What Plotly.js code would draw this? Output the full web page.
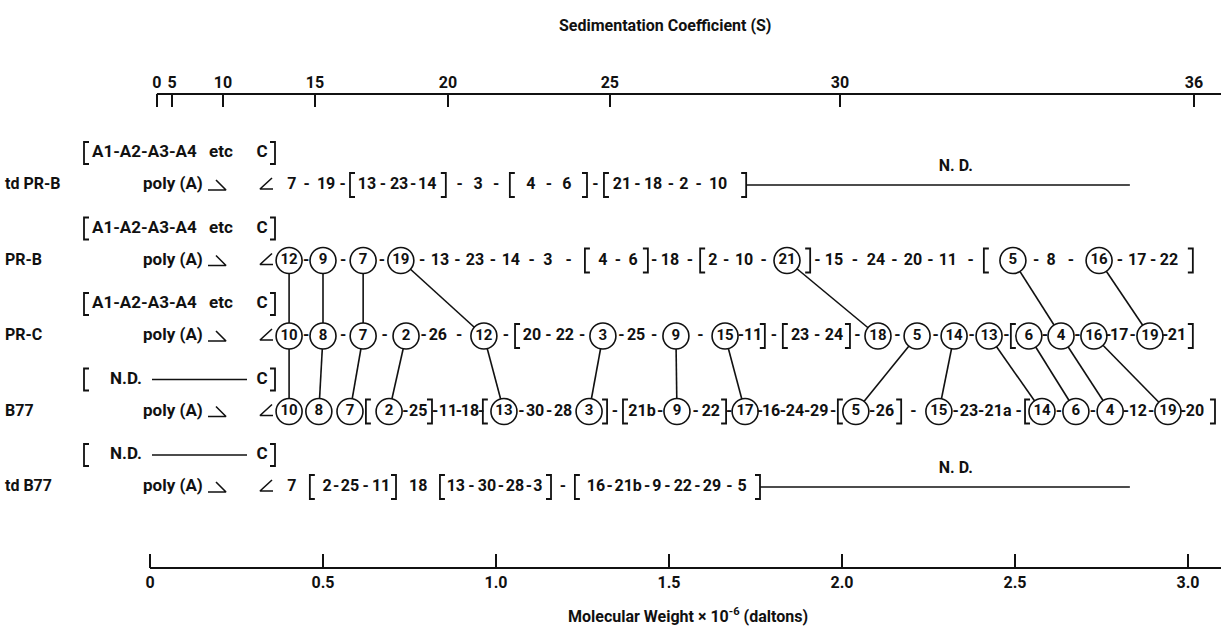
<!DOCTYPE html>
<html>
<head>
<meta charset="utf-8">
<script src="https://cdn.plot.ly/plotly-3.0.1.min.js"></script>
<style>
html,body{margin:0;padding:0;background:#fff;}
#chart{width:1221px;height:627px;}
</style>
</head>
<body>
<div id="chart"></div>
<script>
// ===== data: x positions are molecular weight x 10^-6 measured from the poly(A) end =====
const strains = ['td PR-B', 'PR-B', 'PR-C', 'B77', 'td B77'];
const capText = ['A1-A2-A3-A4 etc', 'A1-A2-A3-A4 etc', 'A1-A2-A3-A4 etc', 'N.D.', 'N.D.'];

// oligonucleotide order; (n) = circled spot, [ ] = group of undetermined order
const orderTdPRB = '7-19-[13-23-14]-3-[4-6]-[21-18-2-10]';
const mwTdPRB = [0.410, 0.509, 0.578, 0.627, 0.720, 0.801, 0.855, 0.948, 1.040, 1.101, 1.205, 1.263, 1.312, 1.364, 1.454, 1.543, 1.642, 1.723];

const orderPRB = '(12)-(9)-(7)-(19)-13-23-14-3-[4-6]-18-[2-10-(21)]-15-24-20-11-[(5)-8-(16)-17-22]';
const mwPRB = [0.402, 0.500, 0.616, 0.725, 0.838, 0.939, 1.043, 1.150, 1.257, 1.309, 1.396, 1.439, 1.503, 1.590, 1.627, 1.717, 1.841, 1.908, 1.977, 2.098, 2.205, 2.306, 2.410, 2.494, 2.604, 2.743, 2.853, 2.945, 3.014];

const orderPRC = '(10)-(8)-(7)-(2)-26-(12)-[20-22-(3)-25-(9)-(15)-11]-[23-24]-(18)-(5)-(14)-(13)-[(6)-(4)-(16)-17-(19)-21]';
const mwPRC = [0.402, 0.500, 0.616, 0.740, 0.832, 0.965, 1.055, 1.104, 1.199, 1.309, 1.405, 1.520, 1.662, 1.743, 1.777, 1.829, 1.879, 1.977, 2.023, 2.104, 2.217, 2.324, 2.425, 2.488, 2.540, 2.633, 2.728, 2.801, 2.890, 2.968, 3.014];

const orderB77 = '(10)(8)(7)[(2)-25]-11-18-[(13)-30-28(3)]-[21b-(9)-22]-(17)-16-24-29-[(5)-26]-(15)-23-21a-[(14)-(6)-(4)-12-(19)-20]';
const mwB77 = [0.402, 0.488, 0.578, 0.624, 0.691, 0.775, 0.815, 0.861, 0.925, 0.962, 1.023, 1.113, 1.194, 1.269, 1.321, 1.367, 1.422, 1.523, 1.621, 1.665, 1.720, 1.795, 1.864, 1.934, 1.988, 2.040, 2.124, 2.171, 2.280, 2.367, 2.451, 2.529, 2.578, 2.676, 2.775, 2.855, 2.942, 3.020, 3.078];

const orderTdB77 = '7 [2-25-11] 18 [13-30-28-3]-[16-21b-9-22-29-5]';
const mwTdB77 = [0.410, 0.462, 0.512, 0.578, 0.668, 0.711, 0.775, 0.838, 0.884, 0.974, 1.055, 1.121, 1.159, 1.228, 1.289, 1.382, 1.465, 1.540, 1.624, 1.711, 1.763];

const ndEnd = [2.832, null, null, null, 2.832];      // end of the "N.D." stretch
const ndLabelMw = [2.329, null, null, null, 2.329];

// corresponding circled oligonucleotides between neighbouring maps
const linksPRBtoPRC = [['12','10'],['9','8'],['7','7'],['19','12'],['21','18'],['5','4'],['16','19']];
const linksPRCtoB77 = [['10','10'],['8','8'],['7','7'],['2','2'],['12','13'],['3','3'],['9','9'],['15','17'],['5','5'],['14','15'],['13','14'],['6','6'],['4','4'],['16','19']];

// axes
const mwTicks = [0, 0.5, 1.0, 1.5, 2.0, 2.5, 3.0];
const mwTickText = ['0', '0.5', '1.0', '1.5', '2.0', '2.5', '3.0'];
const sTickText = ['0', '5', '10', '15', '20', '25', '30', '36'];
const sTickMw = [0.020, 0.064, 0.211, 0.477, 0.861, 1.329, 1.994, 3.017];

// ===== layout helpers =====
const PX = 1 / 346;      // MW units per pixel
const PY = 1 / 75.5;     // row units per pixel
const X0 = -150 * PX, X1 = (1221 - 150) * PX;
const Y0 = -(185 - 94) * PY, Y1 = (568 - 185) * PY;
const FONT = 'Roboto, "Liberation Sans", sans-serif';
const INK = '#111';

const orders = [orderTdPRB, orderPRB, orderPRC, orderB77, orderTdB77];
const mws = [mwTdPRB, mwPRB, mwPRC, mwB77, mwTdB77];

function parse(order, mw) {
  const toks = order.match(/\(\w+\)|\w+|\[|\]|-/g);
  const els = [], dashes = [];
  let k = 0;
  toks.forEach(t => {
    if (t === '-') { dashes.push(els.length - 1); return; }
    let type, label = t;
    if (t === '[' || t === ']') type = t;
    else if (t[0] === '(') { type = 'circle'; label = t.slice(1, -1); }
    else type = 'num';
    els.push({type, label, x: mw[k++]});
  });
  return {els, dashes};
}
const rows = orders.map((o, i) => parse(o, mws[i]));

function ext(e, side) {
  if (e.type === 'circle') return 13;
  if (e.type === '[') return side === 'r' ? 5 : 0;
  if (e.type === ']') return side === 'l' ? 5 : 0;
  return 4.7 * e.label.length;
}

const numX = [], numY = [], numT = [];
const cirX = [], cirY = [], cirT = [];
const brX = [], brY = [];
const BH = 12 * PY, BW = 5 * PX;
function bracket(x, y, open, h) {
  const d = open ? BW : -BW;
  brX.push(x + d, x, x, x + d, null);
  brY.push(y - h, y - h, y + h, y + h, null);
}
rows.forEach((r, i) => {
  r.els.forEach(e => {
    if (e.type === 'num') { numX.push(e.x); numY.push(i); numT.push(e.label); }
    else if (e.type === 'circle') { cirX.push(e.x); cirY.push(i); cirT.push(e.label); }
    else bracket(e.x, i, e.type === '[', BH);
  });
  r.dashes.forEach(k => {
    const a = r.els[k], b = r.els[k + 1];
    const xa = a.x + ext(a, 'r') * PX, xb = b.x - ext(b, 'l') * PX;
    numX.push((xa + xb) / 2); numY.push(i); numT.push('-');
  });
});

function circX(row, label) {
  return rows[row].els.find(e => e.type === 'circle' && e.label === label).x;
}
const lkX = [], lkY = [];
linksPRBtoPRC.forEach(([a, b]) => { lkX.push(circX(1, a), circX(2, b), null); lkY.push(1, 2, null); });
linksPRCtoB77.forEach(([a, b]) => { lkX.push(circX(2, a), circX(3, b), null); lkY.push(2, 3, null); });

// N.D. stretches, hooks, cap-label pieces
const lnX = [], lnY = [];
const ndTX = [], ndTY = [], ndTT = [];
const labX = [], labY = [], labT = [];
const polyX = [], polyY = [], polyT = [];
const capX = [], capY = [], capT = [];
const etcX = [], etcY = [], etcT = [];
const cX = [], cY = [];
const xLab = (5 - 150) * PX, xPoly = (143 - 150) * PX, xHook = (226 - 150) * PX, xCap = (266 - 150) * PX;
const xCapL = (84 - 150) * PX, xCapR = (275 - 150) * PX, xC = (262 - 150) * PX;
strains.forEach((s, i) => {
  labX.push(xLab); labY.push(i); labT.push(s);
  polyX.push(xPoly); polyY.push(i); polyT.push('poly (A)');
  // poly(A) hook
  lnX.push(xHook - 18 * PX, xHook, xHook - 10 * PX, null);
  lnY.push(i + 5 * PY, i + 5 * PY, i - 5 * PY, null);
  // 5' cap mark
  lnX.push(xCap + 6 * PX, xCap - 6 * PX, xCap + 7 * PX, null);
  lnY.push(i - 7 * PY, i + 4 * PY, i + 4 * PY, null);
  if (ndEnd[i] != null) {
    const last = rows[i].els[rows[i].els.length - 1].x;
    lnX.push(last, ndEnd[i], null); lnY.push(i, i, null);
    ndTX.push(ndLabelMw[i]); ndTY.push(i - 18 * PY); ndTT.push('N. D.');
  }
  const yc = i - 32 * PY;
  bracket(xCapL, yc, true, 11 * PY);
  bracket(xCapR, yc, false, 11 * PY);
  cX.push(xC); cY.push(yc);
  if (capText[i] === 'N.D.') {
    capX.push((110 - 150) * PX); capY.push(yc); capT.push('N.D.');
    lnX.push((152 - 150) * PX, (247 - 150) * PX, null); lnY.push(yc, yc, null);
  } else {
    const cut = capText[i].lastIndexOf(' ');
    capX.push((92 - 150) * PX); capY.push(yc); capT.push(capText[i].slice(0, cut));
    etcX.push((221 - 150) * PX); etcY.push(yc); etcT.push(capText[i].slice(cut + 1));
  }
});

const tf = (size) => ({family: FONT, size: size, color: INK, weight: 'bold'});
const txt = (x, y, t, pos, size) => ({x, y, text: t, mode: 'text', textposition: pos, textfont: tf(size), hoverinfo: 'skip', cliponaxis: false});
const traces = [
  {x: lkX, y: lkY, mode: 'lines', line: {color: INK, width: 1.6}, hoverinfo: 'skip', cliponaxis: false},
  {x: brX, y: brY, mode: 'lines', line: {color: INK, width: 1.8}, hoverinfo: 'skip', cliponaxis: false},
  {x: lnX, y: lnY, mode: 'lines', line: {color: INK, width: 1.6}, hoverinfo: 'skip', cliponaxis: false},
  {x: cirX, y: cirY, text: cirT, mode: 'markers+text', textposition: 'middle center',
   marker: {symbol: 'circle', size: 26, color: '#fff', line: {color: INK, width: 1.6}},
   textfont: tf(15), hoverinfo: 'skip', cliponaxis: false},
  txt(numX, numY, numT, 'middle center', 16),
  txt(labX, labY, labT, 'middle right', 16),
  txt(polyX, polyY, polyT, 'middle right', 17),
  txt(capX, capY, capT, 'middle right', 17),
  txt(etcX, etcY, etcT, 'middle center', 17),
  txt(cX, cY, cX.map(() => 'C'), 'middle center', 17),
  txt(ndTX, ndTY, ndTT, 'middle center', 16),
  {x: [sTickMw[0]], y: [null], xaxis: 'x2', mode: 'markers', hoverinfo: 'skip'}
];

const axisCommon = {
  tickmode: 'array', ticks: 'inside', tickwidth: 2, tickcolor: INK, tickangle: 0,
  showgrid: false, zeroline: false, showline: false, fixedrange: true,
  tickfont: tf(16)
};
const layout = {
  width: 1221, height: 627,
  margin: {l: 0, r: 0, t: 94, b: 59, pad: 0},
  paper_bgcolor: '#fff', plot_bgcolor: '#fff', showlegend: false,
  font: {family: FONT, size: 16, color: INK},
  xaxis: Object.assign({}, axisCommon, {range: [X0, X1], tickvals: mwTicks, ticktext: mwTickText, ticklen: 14, ticklabelstandoff: 3}),
  xaxis2: Object.assign({}, axisCommon, {range: [X0, X1], overlaying: 'x', side: 'top', anchor: 'y',
    tickvals: sTickMw, ticktext: sTickText, ticklen: 13, ticklabelstandoff: 2}),
  yaxis: {range: [Y1, Y0], visible: false, fixedrange: true},
  shapes: [
    {type: 'line', xref: 'x', yref: 'paper', x0: 0, x1: X1, y0: 0, y1: 0, line: {color: INK, width: 2}},
    {type: 'line', xref: 'x', yref: 'paper', x0: sTickMw[0], x1: X1, y0: 1, y1: 1, line: {color: INK, width: 2}}
  ],
  annotations: [
    {text: 'Sedimentation Coefficient (S)', xref: 'x', yref: 'paper', x: (665 - 150) * PX, y: 1 + (94 - 26) / 474,
     xanchor: 'center', yanchor: 'middle', showarrow: false, font: tf(16)},
    {text: 'Molecular Weight × 10<sup>-6</sup> (daltons)', xref: 'x', yref: 'paper', x: (688 - 150) * PX, y: -(615 - 568) / 474,
     xanchor: 'center', yanchor: 'middle', showarrow: false, font: tf(16)}
  ]
};

Plotly.newPlot('chart', traces, layout, {displayModeBar: false, staticPlot: true});
</script>
</body>
</html>
